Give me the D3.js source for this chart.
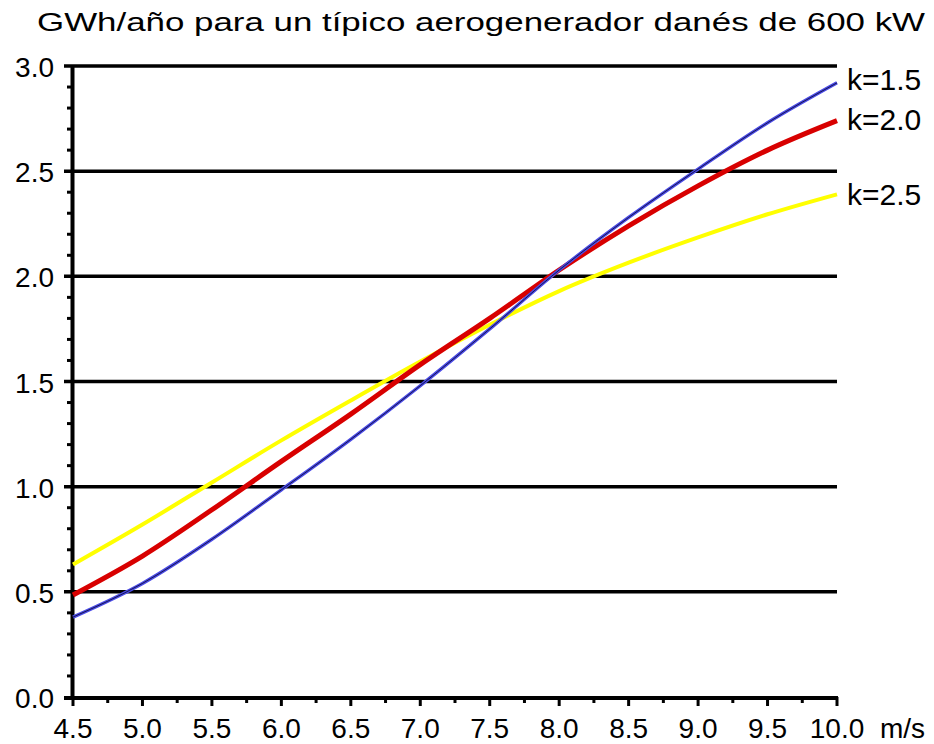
<!DOCTYPE html>
<html>
<head>
<meta charset="utf-8">
<script src="https://cdn.jsdelivr.net/npm/d3@7"></script>
<style>
  html, body { margin: 0; padding: 0; background: #fff; }
  svg { display: block; }
  text { font-family: "Liberation Sans", Arial, sans-serif; fill: #000; }
</style>
</head>
<body>
<svg id="chart" width="934" height="744"></svg>
<script>
const titleText = "GWh/año para un típico aerogenerador danés de 600 kW";
const windSpeeds = [4.5, 5.0, 5.5, 6.0, 6.5, 7.0, 7.5, 8.0, 8.5, 9.0, 9.5, 10.0];
const seriesNames = ["k=1.5", "k=2.0", "k=2.5"];
const k15 = [0.38, 0.54, 0.75, 0.985, 1.225, 1.48, 1.75, 2.03, 2.28, 2.51, 2.73, 2.92];
const k20 = [0.485, 0.67, 0.89, 1.12, 1.345, 1.58, 1.80, 2.03, 2.24, 2.43, 2.60, 2.74];
const k25 = [0.63, 0.82, 1.02, 1.22, 1.41, 1.595, 1.77, 1.93, 2.065, 2.185, 2.295, 2.39];
const xTickLabels = ["4.5","5.0","5.5","6.0","6.5","7.0","7.5","8.0","8.5","9.0","9.5","10.0"];
const yTickLabels = ["0.0","0.5","1.0","1.5","2.0","2.5","3.0"];
const xUnit = "m/s";

const svg = d3.select("#chart");
const x = d3.scaleLinear().domain([4.5, 10.0]).range([73, 837]);
const y = d3.scaleLinear().domain([0, 3.0]).range([697, 66]);

// Title
svg.append("text")
  .attr("x", 37).attr("y", 31)
  .attr("font-size", 26)
  .attr("textLength", 888)
  .attr("lengthAdjust", "spacingAndGlyphs")
  .text(titleText);

// Gridlines (0.5 .. 3.0)
const yMajor = yTickLabels.map(Number);
svg.append("g").selectAll("line")
  .data(yMajor.filter(v => v > 0))
  .join("line")
  .attr("x1", 64).attr("x2", x(10.0))
  .attr("y1", d => y(d)).attr("y2", d => y(d))
  .attr("stroke", "#000").attr("stroke-width", 3.5);

// Y minor ticks (0.1 steps)
const yMinor = d3.range(0, 31).map(i => i / 10).filter(v => Math.round(v * 10) % 5 !== 0);
svg.append("g").selectAll("line")
  .data(yMinor)
  .join("line")
  .attr("x1", 67).attr("x2", 73)
  .attr("y1", d => y(d)).attr("y2", d => y(d))
  .attr("stroke", "#000").attr("stroke-width", 3);

// X axis line
svg.append("line")
  .attr("x1", 64).attr("x2", x(10.0) + 1)
  .attr("y1", y(0) + 1).attr("y2", y(0) + 1)
  .attr("stroke", "#000").attr("stroke-width", 4);

// Y axis line
svg.append("line")
  .attr("x1", 72.5).attr("x2", 72.5)
  .attr("y1", y(3.0) - 1).attr("y2", y(0) + 3)
  .attr("stroke", "#000").attr("stroke-width", 4);

// X ticks
const xMajor = xTickLabels.map(Number);
const xMinor = d3.range(0, 11).map(i => 4.75 + i * 0.5);
svg.append("g").selectAll("line")
  .data(xMajor)
  .join("line")
  .attr("x1", d => x(d)).attr("x2", d => x(d))
  .attr("y1", y(0)).attr("y2", y(0) + 9)
  .attr("stroke", "#000").attr("stroke-width", 3);
svg.append("g").selectAll("line")
  .data(xMinor)
  .join("line")
  .attr("x1", d => x(d)).attr("x2", d => x(d))
  .attr("y1", y(0)).attr("y2", y(0) + 6)
  .attr("stroke", "#000").attr("stroke-width", 3);

// X tick labels
svg.append("g").selectAll("text")
  .data(xTickLabels)
  .join("text")
  .attr("x", d => x(+d)).attr("y", 738)
  .attr("text-anchor", "middle")
  .attr("font-size", 28)
  .text(d => d);
svg.append("text")
  .attr("x", 880).attr("y", 738)
  .attr("font-size", 28)
  .text(xUnit);

// Y tick labels
svg.append("g").selectAll("text")
  .data(yTickLabels)
  .join("text")
  .attr("x", 54).attr("y", d => y(+d) + 11)
  .attr("text-anchor", "end")
  .attr("font-size", 28)
  .text(d => d);

// Curves
const line = d3.line().x((d, i) => x(windSpeeds[i])).y(d => y(d)).curve(d3.curveMonotoneX);
const series = [
  { name: seriesNames[2], values: k25, color: "#ffff00", width: 4 },
  { name: seriesNames[1], values: k20, color: "#d80000", width: 5 },
  { name: seriesNames[0], values: k15, color: "#4a4ae6", width: 3.4 }
];
svg.append("g").selectAll("path")
  .data(series)
  .join("path")
  .attr("d", d => line(d.values))
  .attr("fill", "none")
  .attr("stroke", d => d.color)
  .attr("stroke-width", d => d.width);
// dark core of blue line
svg.append("path")
  .attr("d", line(k15))
  .attr("fill", "none")
  .attr("stroke", "#000010")
  .attr("stroke-opacity", 0.7)
  .attr("stroke-width", 1);

// Series labels
const labelY = { "k=1.5": 90, "k=2.0": 130, "k=2.5": 205 };
svg.append("g").selectAll("text")
  .data(seriesNames)
  .join("text")
  .attr("x", 847).attr("y", d => labelY[d])
  .attr("font-size", 30)
  .text(d => d);
</script>
</body>
</html>
